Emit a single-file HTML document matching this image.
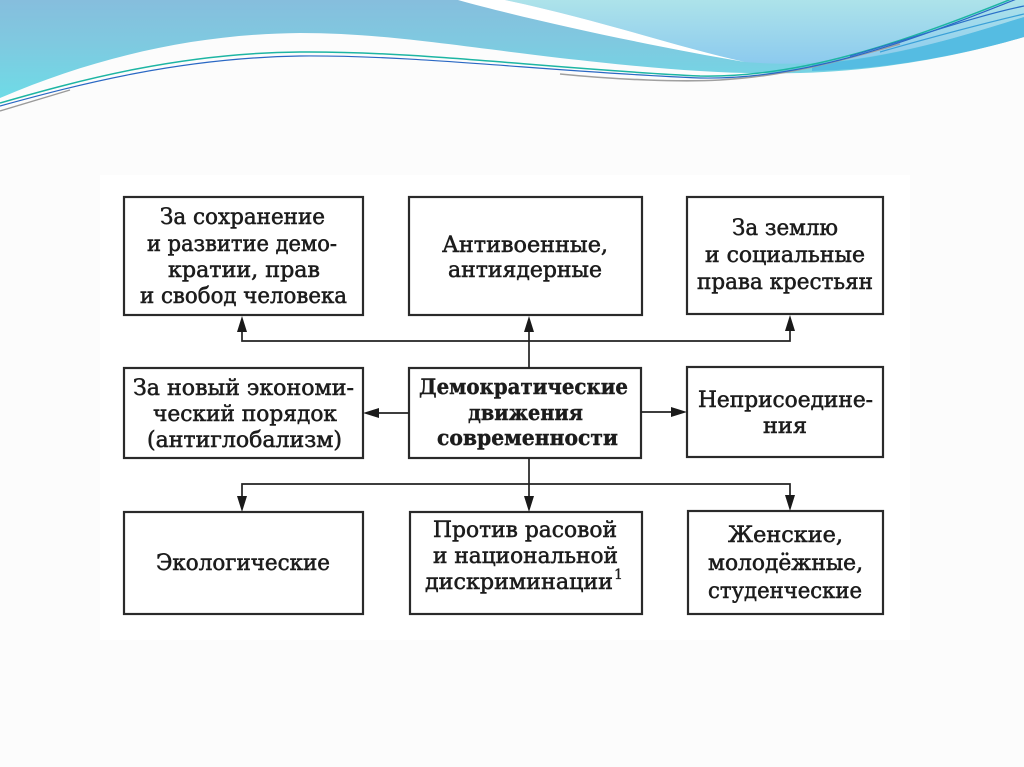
<!DOCTYPE html>
<html>
<head>
<meta charset="utf-8">
<style>
  html,body{margin:0;padding:0;background:#fcfcfc;}
  body{width:1024px;height:767px;overflow:hidden;}
  svg{display:block;}
  text{font-family:"DejaVu Serif","Liberation Serif",serif;fill:#1c1c1c;stroke:#1c1c1c;stroke-width:0.55px;font-size:22px;}
  .b{font-weight:bold;font-size:21px;stroke-width:0.4px;}
</style>
</head>
<body>
<svg width="1024" height="767" viewBox="0 0 1024 767" xmlns="http://www.w3.org/2000/svg">
  <defs>
    <linearGradient id="gA" x1="0" y1="0" x2="0" y2="95" gradientUnits="userSpaceOnUse">
      <stop offset="0" stop-color="#86bedd"/>
      <stop offset="0.45" stop-color="#7fc9e0"/>
      <stop offset="1" stop-color="#6fdae6"/>
    </linearGradient>
    <linearGradient id="gB" x1="0" y1="0" x2="0" y2="64" gradientUnits="userSpaceOnUse">
      <stop offset="0" stop-color="#ade3ea"/>
      <stop offset="1" stop-color="#8ccaee"/>
    </linearGradient>
  </defs>

  <!-- page / diagram background -->
  <rect x="0" y="0" width="1024" height="767" fill="#fcfcfc"/>
  <rect x="100" y="175" width="810" height="465" fill="#ffffff"/>

  <!-- header waves -->
  <path d="M0,0 H1024 V37 C980,50 900,70 800,73 C720,75 650,68 560,58 C450,45 380,33 300,33 C200,34 100,55 0,98 Z" fill="url(#gA)"/>
  <path d="M812,64 C900,58 980,30 1024,17 V37 C980,50 900,69 812,71 Z" fill="#55bce2"/>
  <path d="M505,0 C600,20 680,48 745,62 C770,64 790,64 812,63 C900,58 980,30 1024,17 V0 Z" fill="url(#gB)"/>
  <path d="M458,0 C530,20 650,46 745,62 C680,48 600,20 505,0 Z" fill="#ffffff"/>

  <!-- header lines -->
  <path d="M0,111 C30,102 50,96 70,90" stroke="#9a9a9a" stroke-width="1.4" fill="none"/>
  <path d="M560,74 C620,80 680,82 720,80 C790,76 850,58 900,44" stroke="#a0a0a0" stroke-width="1.6" fill="none"/>
  <path d="M0,106 C80,84 180,58 300,56 C420,55 550,72 700,78 C800,80 900,46 1024,-4" stroke="#2a68c4" stroke-width="1.2" fill="none"/>
  <path d="M0,103 C80,80 180,53 300,52 C420,51 550,69 700,76 C800,78 900,44 1024,-6" stroke="#1db5a3" stroke-width="1.5" fill="none"/>
  <path d="M850,56 C920,36 975,16 1024,6" stroke="#2a70c8" stroke-width="1.2" fill="none"/>
  <path d="M880,52 C950,32 990,22 1024,14" stroke="#3aa0d8" stroke-width="1.2" fill="none"/>

  <!-- boxes -->
  <g fill="none" stroke="#2a2a2a" stroke-width="2.2">
    <rect x="124" y="197" width="239" height="118"/>
    <rect x="409" y="197" width="233" height="118"/>
    <rect x="687" y="197" width="196" height="117"/>
    <rect x="124" y="368" width="239" height="90"/>
    <rect x="409" y="368" width="232" height="90"/>
    <rect x="687" y="367" width="196" height="90"/>
    <rect x="124" y="512" width="239" height="102"/>
    <rect x="410" y="512" width="232" height="102"/>
    <rect x="688" y="511" width="195" height="103"/>
  </g>

  <!-- connectors -->
  <g stroke="#222" stroke-width="1.7" fill="none">
    <line x1="529" y1="368" x2="529" y2="328"/>
    <polyline points="242,328 242,341 790,341 790,328"/>
    <line x1="409" y1="413" x2="376" y2="413"/>
    <line x1="641" y1="412" x2="674" y2="412"/>
    <line x1="529" y1="458" x2="529" y2="499"/>
    <polyline points="242,499 242,484 790,484 790,498"/>
  </g>
  <g fill="#1a1a1a">
    <polygon points="242,316 237,332 247,332"/>
    <polygon points="529,316 524,332 534,332"/>
    <polygon points="790,315 785,331 795,331"/>
    <polygon points="363,413 379,408 379,418"/>
    <polygon points="687,412 671,407 671,417"/>
    <polygon points="242,512 237,496 247,496"/>
    <polygon points="529,512 524,496 534,496"/>
    <polygon points="790,511 785,495 795,495"/>
  </g>

  <!-- texts row 1 -->
  <text x="160" y="224" textLength="165" lengthAdjust="spacingAndGlyphs">За сохранение</text>
  <text x="147" y="251" textLength="190" lengthAdjust="spacingAndGlyphs">и развитие демо-</text>
  <text x="168" y="277" textLength="152" lengthAdjust="spacingAndGlyphs">кратии, прав</text>
  <text x="140" y="303" textLength="207" lengthAdjust="spacingAndGlyphs">и свобод человека</text>

  <text x="442" y="252" textLength="166" lengthAdjust="spacingAndGlyphs">Антивоенные,</text>
  <text x="448" y="277" textLength="154" lengthAdjust="spacingAndGlyphs">антиядерные</text>

  <text x="732" y="235" textLength="106" lengthAdjust="spacingAndGlyphs">За землю</text>
  <text x="705" y="262" textLength="160" lengthAdjust="spacingAndGlyphs">и социальные</text>
  <text x="697" y="289" textLength="176" lengthAdjust="spacingAndGlyphs">права крестьян</text>

  <!-- row 2 -->
  <text x="133" y="395" textLength="221" lengthAdjust="spacingAndGlyphs">За новый экономи-</text>
  <text x="153" y="421" textLength="184" lengthAdjust="spacingAndGlyphs">ческий порядок</text>
  <text x="147" y="447" textLength="195" lengthAdjust="spacingAndGlyphs">(антиглобализм)</text>

  <text class="b" x="419" y="394" textLength="209" lengthAdjust="spacingAndGlyphs">Демократические</text>
  <text class="b" x="468" y="420" textLength="115" lengthAdjust="spacingAndGlyphs">движения</text>
  <text class="b" x="437" y="445" textLength="181" lengthAdjust="spacingAndGlyphs">современности</text>

  <text x="698" y="407" textLength="175" lengthAdjust="spacingAndGlyphs">Неприсоедине-</text>
  <text x="763" y="433" textLength="44" lengthAdjust="spacingAndGlyphs">ния</text>

  <!-- row 3 -->
  <text x="156" y="570" textLength="174" lengthAdjust="spacingAndGlyphs">Экологические</text>

  <text x="433" y="537" textLength="184" lengthAdjust="spacingAndGlyphs">Против расовой</text>
  <text x="433" y="563" textLength="185" lengthAdjust="spacingAndGlyphs">и национальной</text>
  <text x="425" y="589" textLength="188" lengthAdjust="spacingAndGlyphs">дискриминации</text>
  <text x="614" y="579" style="font-size:14px;stroke-width:0.3px">1</text>

  <text x="728" y="542" textLength="115" lengthAdjust="spacingAndGlyphs">Женские,</text>
  <text x="708" y="570" textLength="155" lengthAdjust="spacingAndGlyphs">молодёжные,</text>
  <text x="708" y="598" textLength="154" lengthAdjust="spacingAndGlyphs">студенческие</text>
</svg>
</body>
</html>
